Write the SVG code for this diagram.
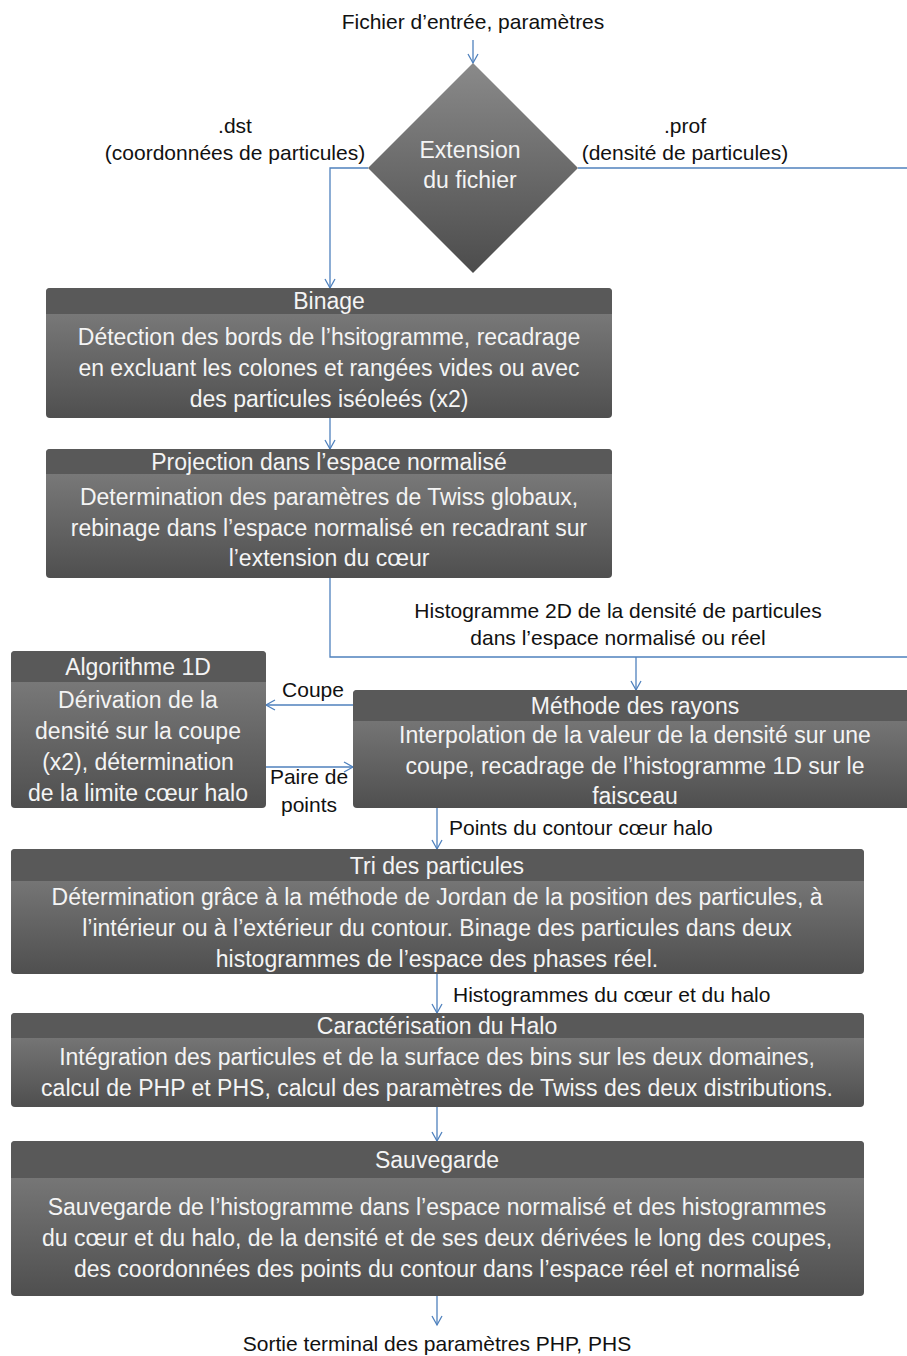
<svg xmlns="http://www.w3.org/2000/svg" width="907" height="1356" viewBox="0 0 907 1356">
<style>
.lbl{font-family:"Liberation Sans",Arial,sans-serif;font-size:21px;fill:#111;text-anchor:middle}
.lbls{font-family:"Liberation Sans",Arial,sans-serif;font-size:21px;fill:#111}
.t{font-family:"Liberation Sans",Arial,sans-serif;font-size:23px;fill:#f4f4f4;text-anchor:middle}
.body{fill:url(#gb)}
.head{fill:#595959}
.c{fill:none;stroke:#4f81bd;stroke-width:1.3}
.ca{fill:none;stroke:#4f81bd;stroke-width:1.3;marker-end:url(#ah)}
</style>
<defs>
<linearGradient id="gb" x1="0" y1="0" x2="0" y2="1">
<stop offset="0" stop-color="#828282"/>
<stop offset="1" stop-color="#4f4f4f"/>
</linearGradient>
<linearGradient id="gd" x1="0" y1="0" x2="0" y2="1">
<stop offset="0" stop-color="#8a8a8a"/>
<stop offset="1" stop-color="#4c4c4c"/>
</linearGradient>
<marker id="ah" markerWidth="12" markerHeight="12" refX="10" refY="6" orient="auto" markerUnits="userSpaceOnUse">
<path d="M1,1 L10,6 L1,11" fill="none" stroke="#4f81bd" stroke-width="1.3"/>
</marker>
</defs>

<g id="connectors">
<path class="ca" d="M473,40 V63"/>
<path class="ca" d="M368,168 H330 V288"/>
<path class="c" d="M578,168 H908"/>
<path class="ca" d="M330,418 V449"/>
<path class="c" d="M330,578 V657 H908"/>
<path class="ca" d="M636,657 V690"/>
<path class="ca" d="M353,705 H266"/>
<path class="ca" d="M266,767 H353"/>
<path class="ca" d="M437,808 V849"/>
<path class="ca" d="M437,974 V1013"/>
<path class="ca" d="M437,1107 V1141"/>
<path class="ca" d="M437,1296 V1325"/>
</g>

<g id="labels">
<text class="lbl" x="473" y="29">Fichier d’entrée, paramètres</text>
<text class="lbl" x="235" y="133">.dst</text>
<text class="lbl" x="235" y="160">(coordonnées de particules)</text>
<text class="lbl" x="685" y="133">.prof</text>
<text class="lbl" x="685" y="160">(densité de particules)</text>
<text class="lbl" x="618" y="618">Histogramme 2D de la densité de particules</text>
<text class="lbl" x="618" y="645">dans l’espace normalisé ou réel</text>
<text class="lbl" x="313" y="697">Coupe</text>
<text class="lbl" x="309" y="784">Paire de</text>
<text class="lbl" x="309" y="812">points</text>
<text class="lbls" x="449" y="835">Points du contour cœur halo</text>
<text class="lbls" x="453" y="1002">Histogrammes du cœur et du halo</text>
<text class="lbl" x="437" y="1351">Sortie terminal des paramètres PHP, PHS</text>
</g>

<g id="decision">
<polygon points="473,63 578,168 473,273 368,168" fill="url(#gd)"/>
<text class="t" x="470" y="158">Extension</text>
<text class="t" x="470" y="188">du fichier</text>
</g>

<g id="binage">
<rect class="body" x="46" y="288" width="566" height="130" rx="4"/>
<path class="head" d="M46,314 V292 Q46,288 50,288 H608 Q612,288 612,292 V314 Z"/>
<text class="t" x="329" y="309">Binage</text>
<text class="t" x="329" y="345">Détection des bords de l’hsitogramme, recadrage</text>
<text class="t" x="329" y="376">en excluant les colones et rangées vides ou avec</text>
<text class="t" x="329" y="407">des particules iséoleés (x2)</text>
</g>

<g id="projection">
<rect class="body" x="46" y="449" width="566" height="129" rx="4"/>
<path class="head" d="M46,474 V453 Q46,449 50,449 H608 Q612,449 612,453 V474 Z"/>
<text class="t" x="329" y="470">Projection dans l’espace normalisé</text>
<text class="t" x="329" y="505">Determination des paramètres de Twiss globaux,</text>
<text class="t" x="329" y="536">rebinage dans l’espace normalisé en recadrant sur</text>
<text class="t" x="329" y="566">l’extension du cœur</text>
</g>

<g id="algo1d">
<rect class="body" x="11" y="651" width="255" height="157" rx="4"/>
<path class="head" d="M11,682 V655 Q11,651 15,651 H262 Q266,651 266,655 V682 Z"/>
<text class="t" x="138" y="675">Algorithme 1D</text>
<text class="t" x="138" y="708">Dérivation de la</text>
<text class="t" x="138" y="739">densité sur la coupe</text>
<text class="t" x="138" y="770">(x2), détermination</text>
<text class="t" x="138" y="801">de la limite cœur halo</text>
</g>

<g id="rayons">
<rect class="body" x="353" y="690" width="570" height="118" rx="4"/>
<path class="head" d="M353,721 V694 Q353,690 357,690 H923 V721 Z"/>
<text class="t" x="635" y="714">Méthode des rayons</text>
<text class="t" x="635" y="743">Interpolation de la valeur de la densité sur une</text>
<text class="t" x="635" y="774">coupe, recadrage de l’histogramme 1D sur le</text>
<text class="t" x="635" y="804">faisceau</text>
</g>

<g id="tri">
<rect class="body" x="11" y="849" width="853" height="125" rx="4"/>
<path class="head" d="M11,881 V853 Q11,849 15,849 H860 Q864,849 864,853 V881 Z"/>
<text class="t" x="437" y="874">Tri des particules</text>
<text class="t" x="437" y="905">Détermination grâce à la méthode de Jordan de la position des particules, à</text>
<text class="t" x="437" y="936">l’intérieur ou à l’extérieur du contour. Binage des particules dans deux</text>
<text class="t" x="437" y="967">histogrammes de l’espace des phases réel.</text>
</g>

<g id="caracterisation">
<rect class="body" x="11" y="1013" width="853" height="94" rx="4"/>
<path class="head" d="M11,1038 V1017 Q11,1013 15,1013 H860 Q864,1013 864,1017 V1038 Z"/>
<text class="t" x="437" y="1034">Caractérisation du Halo</text>
<text class="t" x="437" y="1065">Intégration des particules et de la surface des bins sur les deux domaines,</text>
<text class="t" x="437" y="1096">calcul de PHP et PHS, calcul des paramètres de Twiss des deux distributions.</text>
</g>

<g id="sauvegarde">
<rect class="body" x="11" y="1141" width="853" height="155" rx="4"/>
<path class="head" d="M11,1178 V1145 Q11,1141 15,1141 H860 Q864,1141 864,1145 V1178 Z"/>
<text class="t" x="437" y="1168">Sauvegarde</text>
<text class="t" x="437" y="1215">Sauvegarde de l’histogramme dans l’espace normalisé et des histogrammes</text>
<text class="t" x="437" y="1246">du cœur et du halo, de la densité et de ses deux dérivées  le long des coupes,</text>
<text class="t" x="437" y="1277">des coordonnées des points du contour dans l’espace réel et normalisé</text>
</g>
</svg>
